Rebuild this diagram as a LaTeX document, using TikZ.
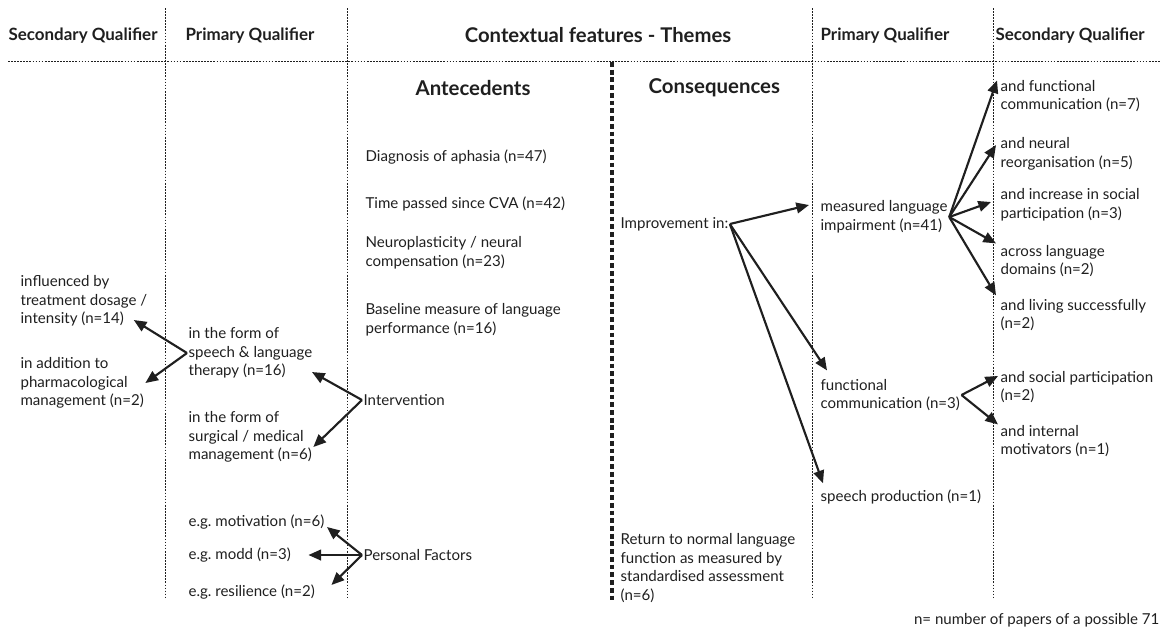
\documentclass[tikz,border=0pt]{standalone}
\usepackage{fontspec}
\setmainfont{Lato}
\usetikzlibrary{arrows.meta,calc}
\tikzset{
  txt/.style = {anchor=west, align=left, inner sep=1pt, font=\frenchspacing\fontsize{11.3}{14}\selectfont},
  hdr/.style = {anchor=west, inner sep=1pt, font=\bfseries\fontsize{12.7}{15}\selectfont},
  ttl/.style = {anchor=west, inner sep=1pt, font=\bfseries\fontsize{15.3}{17}\selectfont},
  arr/.style = {-{Triangle[length=9.5pt,width=8pt]}, line width=1.6pt},
  sep/.style = {line width=0.6pt, dash pattern=on 1.3pt off 1pt},
  mainsep/.style = {line width=2.6pt, dash pattern=on 3.6pt off 2.2pt}
}
\begin{document}
\begin{tikzpicture}[x=0.75pt,y=-0.75pt,color={black!88}]
      \useasboundingbox (0,0) rectangle (1166,637);
      % column rules
      \draw [sep] (8,61) -- (1160,61);
      \draw [sep] (165,8) -- (165,597);
      \draw [sep] (347,8) -- (347,597);
      \draw [sep] (812,8) -- (812,597);
      \draw [sep] (993,8) -- (993,597);
      \draw [mainsep] (612,62) -- (612,600);
      % headings
      \node [hdr] (secL) at (7,36) {Secondary Qualifier};
      \node [hdr] (priL) at (184,36) {Primary Qualifier};
      \node [hdr,anchor=center,font=\bfseries\fontsize{15.2}{17}\selectfont] (ctx) at (598,35) {Contextual features - Themes};
      \node [hdr] (priR) at (819,36) {Primary Qualifier};
      \node [hdr] (secR) at (994,36) {Secondary Qualifier};
      \node [ttl] (ante) at (414,88) {Antecedents};
      \node [ttl] (cons) at (647,88) {Consequences};
      % antecedents
      \node [txt] (diag) at (364,157) {Diagnosis of aphasia (n=47)};
      \node [txt] (time) at (364,204) {Time passed since CVA (n=42)};
      \node [txt] (neuro) at (364,253) {Neuroplasticity / neural\\compensation (n=23)};
      \node [txt] (base) at (364,320) {Baseline measure of language\\performance (n=16)};
      \node [txt] (intv) at (362,400) {Intervention};
      \node [txt] (pers) at (362,555) {Personal Factors};
      \node [txt] (slt) at (187,353) {in the form of\\speech \& language\\therapy (n=16)};
      \node [txt] (surg) at (187,437) {in the form of\\surgical / medical\\management (n=6)};
      \node [txt] (motiv) at (187,522) {e.g. motivation (n=6)};
      \node [txt] (modd) at (187,555) {e.g. modd (n=3)};
      \node [txt] (resil) at (187,592) {e.g. resilience (n=2)};
      \node [txt] (dose) at (19,301) {influenced by\\treatment dosage /\\intensity (n=14)};
      \node [txt] (pharm) at (19,383) {in addition to\\pharmacological\\management (n=2)};
      % consequences
      \node [txt] (impr) at (619,224) {Improvement in:};
      \node [txt] (ret) at (619,568) {Return to normal language\\function as measured by\\standardised assessment\\(n=6)};
      \node [txt] (meas) at (819,217) {measured language\\impairment (n=41)};
      \node [txt] (func) at (819,395) {functional\\communication (n=3)};
      \node [txt] (speech) at (819,497) {speech production (n=1)};
      \node [txt] (fcom) at (999,96) {and functional\\communication (n=7)};
      \node [txt] (reorg) at (999,154) {and neural\\reorganisation (n=5)};
      \node [txt] (socinc) at (999,205) {and increase in social\\participation (n=3)};
      \node [txt] (domain) at (999,261) {across language\\domains (n=2)};
      \node [txt] (living) at (999,315) {and living successfully\\(n=2)};
      \node [txt] (socpart) at (999,387) {and social participation\\(n=2)};
      \node [txt] (intmot) at (999,441) {and internal\\motivators (n=1)};
      \node [txt,anchor=east] (note) at (1161,620) {n= number of papers of a possible 71};
      % arrows
      \draw [arr] (impr.east) -- ($(meas.west)+(-10,-12)$);
      \draw [arr] (impr.east) -- ($(func.north west)+(8,-7)$);
      \draw [arr] (impr.east) -- ($(speech.north west)+(4,-5)$);
      \draw [arr] (meas.east) -- ($(fcom.north west)+(-2,2)$);
      \draw [arr] (meas.east) -- ($(reorg.west)+(-3,-9)$);
      \draw [arr] (meas.east) -- ($(socinc.west)+(-8,-3)$);
      \draw [arr] (meas.east) -- ($(domain.north west)+(-3,0)$);
      \draw [arr] (meas.east) -- ($(living.north west)+(-3,-2)$);
      \draw [arr] (func.east) -- ($(socpart.west)+(-1,-11)$);
      \draw [arr] (func.east) -- ($(intmot.north west)+(-1,1)$);
      \draw [arr] (intv.west) -- ($(slt.east)+(-2,19)$);
      \draw [arr] (intv.west) -- ($(surg.east)+(0,10)$);
      \draw [arr] (slt.west) -- ($(dose.east)+(-15,19)$);
      \draw [arr] (slt.west) -- (pharm.east);
      \draw [arr] (pers.west) -- ($(motiv.east)+(1,5)$);
      \draw [arr] (pers.west) -- ($(modd.east)+(16,0)$);
      \draw [arr] (pers.west) -- ($(resil.east)+(15,-7)$);
\end{tikzpicture}
\end{document}
